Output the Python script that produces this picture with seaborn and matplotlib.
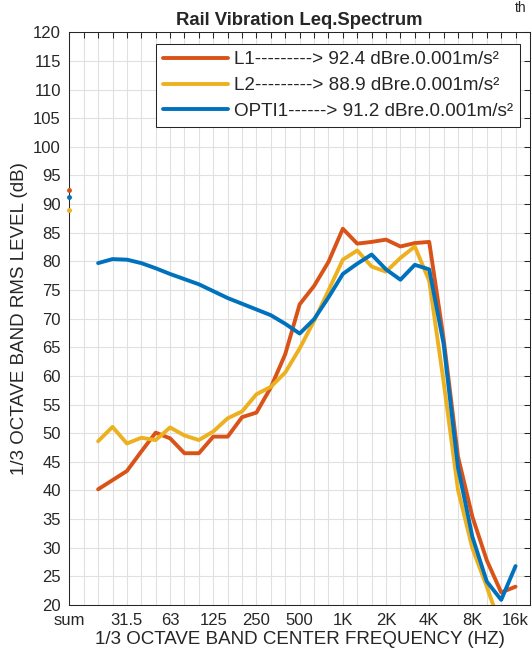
import matplotlib
matplotlib.use("Agg")
import matplotlib.pyplot as plt
import pandas as pd
import seaborn as sns

# 1/3 octave band axis, "sum" sits at position 0
bands = ['sum', '16', '20', '25', '31.5', '40', '50', '63', '80', '100',
         '125', '160', '200', '250', '315', '400', '500', '630', '800',
         '1K', '1.25K', '1.6K', '2K', '2.5K', '3.15K', '4K', '5K', '6.3K',
         '8K', '10K', '12.5K', '16k']
shown_bands = ['sum', '31.5', '63', '125', '250', '500', '1K', '2K', '4K',
               '8K', '16k']

# spectra from 20 Hz up to 16 kHz
l1_levels = [40.2, 41.8, 43.4, 46.8, 50.1, 49.1, 46.5, 46.5, 49.4, 49.4,
             52.8, 53.6, 58.0, 63.8, 72.5, 75.7, 79.9, 85.7, 83.1, 83.4,
             83.8, 82.6, 83.2, 83.4, 66.5, 45.9, 35.4, 27.8, 22.2, 23.2]
l2_levels = [48.6, 51.1, 48.2, 49.2, 48.8, 51.0, 49.6, 48.8, 50.3, 52.6,
             53.8, 56.8, 58.1, 60.6, 64.8, 69.6, 74.9, 80.3, 81.9, 79.1,
             78.2, 80.6, 82.6, 76.6, 59.0, 40.1, 29.9, 23.2, 16.0, 17.0]
opti1_levels = [79.7, 80.4, 80.3, 79.7, 78.8, 77.8, 76.9, 76.0, 74.8, 73.6,
                72.6, 71.6, 70.6, 69.1, 67.4, 69.9, 73.7, 77.8, 79.6, 81.2,
                78.6, 76.8, 79.4, 78.6, 65.6, 44.0, 31.9, 24.1, 20.9, 26.8]

names = ['L1', 'L2', 'OPTI1']
dashes = ['---------', '---------', '------']
sum_levels = [92.4, 88.9, 91.2]
colors = ['#D95319', '#EDB120', '#0072BD']

sns.set_style("white")
plt.rcParams['font.family'] = ['Liberation Sans', 'DejaVu Sans']
plt.rcParams['text.color'] = '#262626'
plt.rcParams['axes.labelcolor'] = '#262626'

labels = [f"{n}{d}> {s:.1f} dBre.0.001m/s²"
          for n, d, s in zip(names, dashes, sum_levels)]
first = bands.index('20')
frames = []
for label, levels in zip(labels, [l1_levels, l2_levels, opti1_levels]):
    frames.append(pd.DataFrame({
        'band': bands[first:first + len(levels)],
        'level': levels,
        'series': label,
    }))
df = pd.concat(frames, ignore_index=True)
df['pos'] = df['band'].map({b: i for i, b in enumerate(bands)})

fig = plt.figure(figsize=(5.32, 6.62), dpi=100)
ax = fig.add_axes([0.1303, 0.0861, 0.8659, 0.8651])

sns.lineplot(data=df, x='pos', y='level', hue='series',
             palette=dict(zip(labels, colors)), linewidth=2.8,
             ax=ax, legend=False, sort=False)

# overall levels drawn as dots at the "sum" position
for s, c in zip(sum_levels, colors):
    ax.plot([0], [s], '.', color=c, markersize=5, clip_on=False, zorder=4)

ax.set_xlim(0, len(bands))
ax.set_ylim(20, 120)
ax.set_xticks(range(len(bands) + 1))
ax.set_xticklabels([b if b in shown_bands else '' for b in bands] + [''])
ax.set_yticks(range(20, 121, 5))
ax.tick_params(direction='in', length=4, width=0.75, colors='#262626',
               labelsize=12, top=True, right=True, pad=6)
ax.grid(True, color='#e0e0e0', linewidth=0.8)
for sp in ax.spines.values():
    sp.set_color('#262626')
    sp.set_linewidth(0.75)

ax.set_title('Rail Vibration Leq.Spectrum', fontsize=13.3,
             fontweight='bold', pad=5)
ax.set_xlabel('1/3 OCTAVE BAND CENTER FREQUENCY (HZ)', fontsize=13.5,
              labelpad=2)
ax.set_ylabel('1/3 OCTAVE BAND RMS LEVEL (dB)', fontsize=13.5, labelpad=4)

handles = [plt.Line2D([], [], color=c, linewidth=2.8) for c in colors]
leg = ax.legend(handles, labels, loc='upper right',
                bbox_to_anchor=(520 / 532, 1 - 44 / 662),
                bbox_transform=fig.transFigure, borderaxespad=0,
                fontsize=13.6, handlelength=3.4, handletextpad=0.32,
                labelspacing=0.45, fancybox=False, framealpha=1,
                borderpad=0.38)
leg.get_frame().set_edgecolor('#262626')
leg.get_frame().set_linewidth(0.75)

fig.text(0.968, 0.998, 'th', fontsize=10, va='top', ha='left',
         color='#262626')

fig.savefig('out.png', dpi=100)
